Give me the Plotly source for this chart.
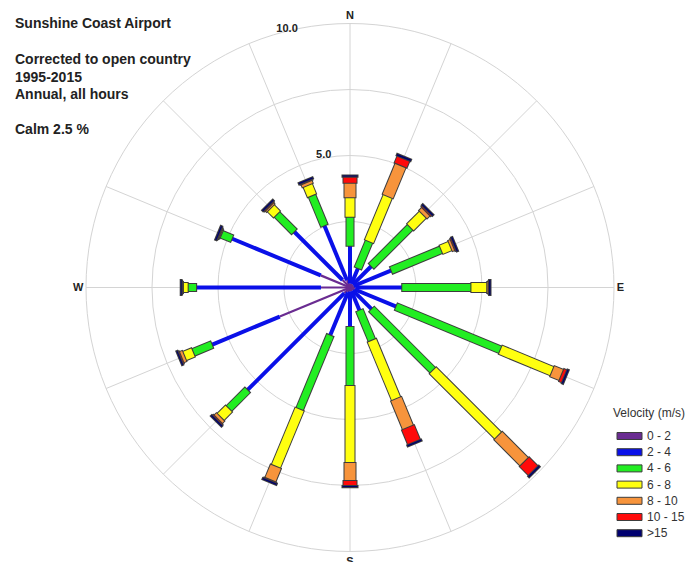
import plotly.graph_objects as go

# ---------------- data (percent frequency per direction, per velocity band) ----
directions = ["N", "NNE", "NE", "ENE", "E", "ESE", "SE", "SSE",
              "S", "SSW", "SW", "WSW", "W", "WNW", "NW", "NNW"]
dir_angles = [0, 22.5, 45, 67.5, 90, 112.5, 135, 157.5,
              180, 202.5, 225, 247.5, 270, 292.5, 315, 337.5]

bin_labels = ["0 - 2", "2 - 4", "4 - 6", "6 - 8", "8 - 10", "10 - 15", ">15"]

v0_2   = [0.15, 0.15, 0.15, 0.15, 0.20, 0.20, 0.15, 0.15, 0.15, 0.20, 0.30, 2.88, 1.10, 1.20, 0.40, 0.30]
v2_4   = [1.43, 0.65, 1.00, 1.55, 1.78, 1.70, 1.02, 0.80, 1.35, 1.77, 5.20, 2.79, 4.73, 3.65, 2.60, 2.25]
v4_6   = [1.10, 1.10, 2.09, 2.05, 2.62, 4.28, 3.28, 1.23, 2.23, 3.03, 1.00, 0.77, 0.32, 0.43, 0.93, 1.23]
v6_8   = [0.74, 1.85, 0.68, 0.37, 0.60, 2.12, 3.50, 2.40, 2.92, 2.35, 0.45, 0.36, 0.18, 0.03, 0.33, 0.42]
v8_10  = [0.55, 1.27, 0.16, 0.10, 0.05, 0.38, 1.40, 1.17, 0.68, 0.55, 0.13, 0.12, 0.03, 0.03, 0.07, 0.12]
v10_15 = [0.23, 0.28, 0.05, 0.04, 0.02, 0.12, 0.48, 0.60, 0.19, 0.03, 0.04, 0.04, 0.02, 0.02, 0.04, 0.03]
v15p   = [0.04, 0.06, 0.05, 0.05, 0.05, 0.05, 0.05, 0.05, 0.04, 0.05, 0.05, 0.04, 0.03, 0.05, 0.05, 0.05]

ring_vals = [2.5, 5.0, 7.5, 10.0]
ring_text = ["", "5.0", "", "10.0"]
title_lines = ["Sunshine Coast Airport", "Corrected to open country",
               "1995-2015", "Annual, all hours", "Calm 2.5 %"]

# ---------------- styling ----------------
bins = [v0_2, v2_4, v4_6, v6_8, v8_10, v10_15, v15p]
colors = ["#6A2C91", "#0A10E8", "#22EE22", "#FFFF10", "#F7943C", "#FF0A0A", "#000070"]
widths = [2.2, 4, 7, 9, 11, 13, 15]
outlined = [False, False, True, True, True, True, True]
edge = "#3C3C3C"
eps = 0.04
FONT = "Liberation Sans, Arial, sans-serif"

W, H = 686, 562


def px(x):
    return x / W


def py(y):
    return 1 - y / H


fig = go.Figure()

cum = [0.0] * len(directions)
for k, vals in enumerate(bins):
    r_fill, r_line, th = [], [], []
    for i, a in enumerate(dir_angles):
        start = cum[i]
        end = cum[i] + vals[i]
        r_fill += [start, end, None]
        r_line += [max(start - eps, 0), end + eps, None]
        th += [a, a, None]
        cum[i] = end
    if outlined[k]:
        fig.add_trace(go.Scatterpolar(
            r=r_line, theta=th, mode="lines",
            line=dict(color=edge, width=widths[k] + 2),
            hoverinfo="skip", showlegend=False))
    fig.add_trace(go.Scatterpolar(
        r=r_fill, theta=th, mode="lines",
        line=dict(color=colors[k], width=widths[k]),
        name=bin_labels[k], hoverinfo="skip", showlegend=False))

cx, cy, R = 350, 287.5, 264
rad_angle = 107.5

fig.update_layout(
    width=W, height=H,
    margin=dict(l=0, r=0, t=0, b=0),
    paper_bgcolor="white",
    plot_bgcolor="white",
    showlegend=False,
    polar=dict(
        domain=dict(x=[px(cx - R), px(cx + R)],
                    y=[py(cy + R), py(cy - R)]),
        bgcolor="white",
        radialaxis=dict(
            range=[0, 10], tickvals=ring_vals,
            ticktext=[t + "<br> " if t else t for t in ring_text],
            showline=False, ticks="", angle=rad_angle, tickangle=rad_angle,
            gridcolor="#D4D4D4", gridwidth=1,
            tickfont=dict(family=FONT, size=11, color="#222222", weight="bold"),
        ),
        angularaxis=dict(
            rotation=90, direction="clockwise",
            tickmode="array", tickvals=dir_angles,
            ticktext=[d if d in ("N", "E", "S", "W") else "" for d in directions],
            ticks="", showline=True, linecolor="#D4D4D4", linewidth=1,
            gridcolor="#D4D4D4", gridwidth=1,
            tickfont=dict(family=FONT, size=11, color="#222222", weight="bold"),
        ),
    ),
)

# title block (top-left)
title_y = [23, 59, 77, 94, 129]
for txt, yy in zip(title_lines, title_y):
    fig.add_annotation(x=px(13), y=py(yy), xref="paper", yref="paper",
                       xanchor="left", yanchor="middle", showarrow=False,
                       text=txt, font=dict(family=FONT, size=14, color="#222222", weight="bold"))

# legend (bottom-right)
fig.add_annotation(x=px(611), y=py(413), xref="paper", yref="paper",
                   xanchor="left", yanchor="middle", showarrow=False,
                   text="Velocity (m/s)", font=dict(family=FONT, size=12, color="#333333"))
row0, step = 436, 16.2
for k, lab in enumerate(bin_labels):
    yy = row0 + k * step
    fig.add_shape(type="rect", xref="paper", yref="paper",
                  x0=px(617), x1=px(642), y0=py(yy + 3.5), y1=py(yy - 3.5),
                  fillcolor=colors[k], line=dict(color=edge, width=1))
    fig.add_annotation(x=px(645), y=py(yy), xref="paper", yref="paper",
                       xanchor="left", yanchor="middle", showarrow=False,
                       text=lab, font=dict(family=FONT, size=12, color="#333333"))

# remove the browser's default 8px body margin so the figure fills the window
fig.write_html("out.html",
               config={"displayModeBar": False},
               post_script="document.body.style.margin='0px';document.body.style.overflow='hidden';")
